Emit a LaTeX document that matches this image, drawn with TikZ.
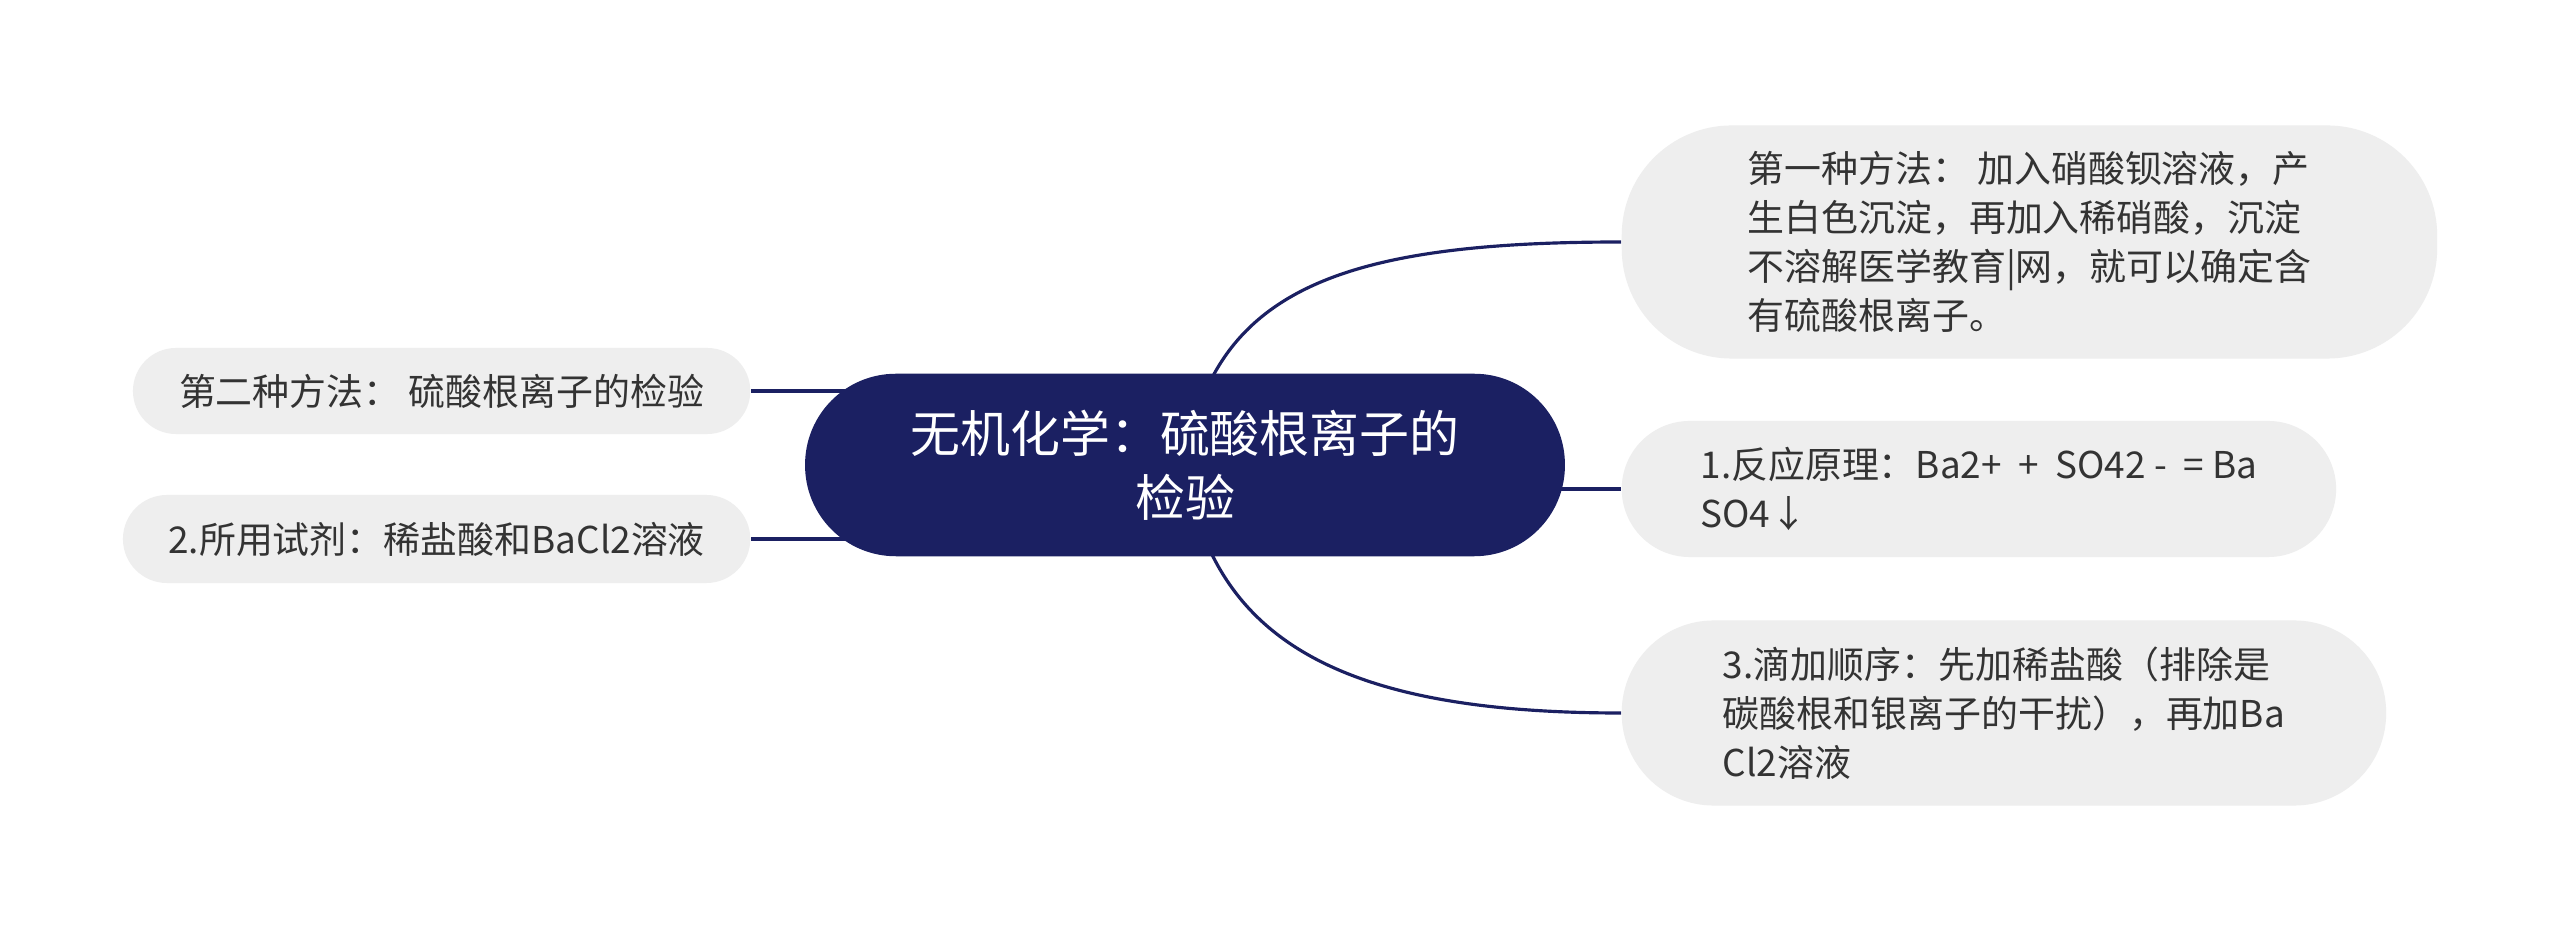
\documentclass[tikz,border=0pt]{standalone}
\usepackage{fontspec}
\newfontfamily\cjk{Noto Sans CJK SC}
\usepackage{xcolor}
\usetikzlibrary{positioning, backgrounds}
\definecolor{navy}{HTML}{1B2062}
\definecolor{leafgray}{HTML}{EEEEEE}
\definecolor{leaftext}{HTML}{333333}

\begin{document}
\begin{tikzpicture}[
    x=0.01cm, y=-0.01cm,
    topicbox/.style={rectangle, rounded corners=0.9cm, draw=navy, fill=navy, minimum width=7.58cm, minimum height=1.81cm, align=center, text=white, font=\cjk\fontsize{14.2pt}{18.2pt}\selectfont},
    leaf/.style={rectangle, fill=leafgray, align=left, inner sep=0pt, text=leaftext, font=\cjk\fontsize{10.5pt}{14pt}\selectfont},
    link/.style={draw=navy, line width=0.9pt}
]
\useasboundingbox (0,0) rectangle (2560,931);
% Nodes
\node[topicbox] (topic) at (1185,465) {无机化学：硫酸根离子的\\检验};
\node[leaf, rounded corners=1.1cm, minimum width=8.15cm, minimum height=2.33cm, anchor=west] (method1) at (1621,242)
    {第一种方法： 加入硝酸钡溶液，产\\生白色沉淀，再加入稀硝酸，沉淀\\不溶解医学教育|网，就可以确定含\\有硫酸根离子。};
\node[leaf, rounded corners=0.68cm, minimum width=7.14cm, minimum height=1.36cm, anchor=west] (principle) at (1621,489)
    {1.反应原理：Ba2+\ \ +\ \ SO42\ -\ \ = Ba\\SO4↓};
\node[leaf, rounded corners=0.92cm, minimum width=7.64cm, minimum height=1.85cm, anchor=west] (order) at (1621,713)
    {3.滴加顺序：先加稀盐酸（排除是\\碳酸根和银离子的干扰），再加Ba\\Cl2溶液};
\node[leaf, rounded corners=0.43cm, minimum width=6.17cm, minimum height=0.86cm, anchor=east] (method2) at (751,391)
    {第二种方法： 硫酸根离子的检验};
\node[leaf, rounded corners=0.44cm, minimum width=6.27cm, minimum height=0.88cm, anchor=east] (reagent) at (751,539)
    {2.所用试剂：稀盐酸和BaCl2溶液};
% Connectors
\begin{scope}[on background layer]
\fill[white] (0,0) rectangle (2560,931);
\draw[link] (topic.center) .. controls (1212,290) and (1340,242) .. (method1.west);
\draw[link] (principle.west -| topic.center) -- (principle.west);
\draw[link] (topic.center) .. controls (1212,640) and (1340,713) .. (order.west);
\draw[link] (method2.east) -- (method2.east -| topic.center);
\draw[link] (reagent.east) -- (reagent.east -| topic.center);
\end{scope}
\end{tikzpicture}
\end{document}
